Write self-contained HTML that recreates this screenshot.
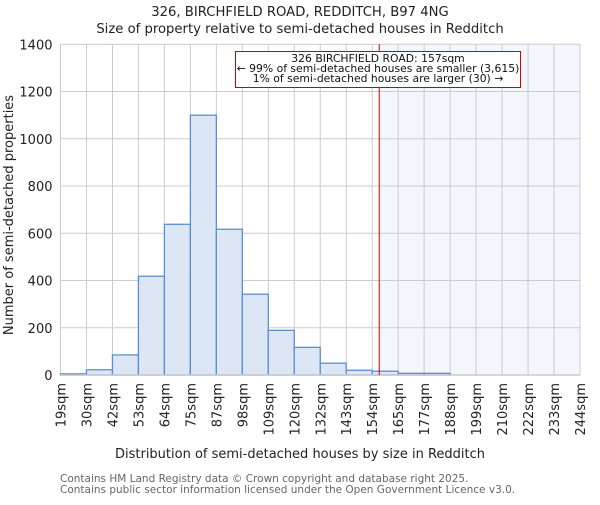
<!DOCTYPE html>
<html><head><meta charset="utf-8"><style>
body{margin:0;background:#fff;}
svg text{font-family:"DejaVu Sans","Liberation Sans",sans-serif;}
</style></head><body>
<svg width="600" height="500" xmlns="http://www.w3.org/2000/svg">
<g id="grid"></g>
<g id="bars"></g>
<g id="axes"></g>
<text x="300" y="16" text-anchor="middle" font-size="13.2" fill="#222">326, BIRCHFIELD ROAD, REDDITCH, B97 4NG</text>
<text x="300" y="33" text-anchor="middle" font-size="13.2" fill="#222">Size of property relative to semi-detached houses in Redditch</text>
<text x="300" y="458" text-anchor="middle" font-size="13" fill="#222">Distribution of semi-detached houses by size in Redditch</text>
<text transform="translate(13,215) rotate(-90)" text-anchor="middle" font-size="13" fill="#222">Number of semi-detached properties</text>
<text x="60" y="482" font-size="10.5" fill="#666">Contains HM Land Registry data © Crown copyright and database right 2025.</text>
<text x="60" y="493" font-size="10.5" fill="#666">Contains public sector information licensed under the Open Government Licence v3.0.</text>
</svg>
<script>
const categories=["19sqm","30sqm","42sqm","53sqm","64sqm","75sqm","87sqm","98sqm","109sqm","120sqm","132sqm","143sqm","154sqm","165sqm","177sqm","188sqm","199sqm","210sqm","222sqm","233sqm","244sqm"];
const counts=[5,22,85,418,638,1100,617,342,189,117,50,20,16,7,7,0,0,0,0,0];
const yTicks=[0,200,400,600,800,1000,1200,1400];
const markerBin=12.27;
const NS="http://www.w3.org/2000/svg";
const L=60.5,R=580,T=44.3,B=375;
const bw=(R-L)/counts.length;
const xs=i=>L+i*bw;
const ys=v=>B-(v/1400)*(B-T);
function mk(tag,attrs,parent){const e=document.createElementNS(NS,tag);for(const k in attrs)e.setAttribute(k,attrs[k]);parent.appendChild(e);return e;}
const grid=document.getElementById('grid'),bars=document.getElementById('bars'),axes=document.getElementById('axes');
const mx=xs(markerBin);
const sh=mk('rect',{x:mx,y:T,width:R-mx,height:B-T,fill:'#f3f6fd'},grid);


yTicks.forEach(v=>{
 const l=mk('line',{x1:L,x2:R,y1:ys(v),y2:ys(v),stroke:'#ccc','stroke-width':1},grid);
 
 
 const t=mk('text',{x:L-8,y:ys(v)+5,'text-anchor':'end','font-size':13,fill:'#222'},axes);
 t.textContent=v;
 
 
});
categories.forEach((c,i)=>{
 const x=xs(i);
 const l=mk('line',{x1:x,x2:x,y1:T,y2:B,stroke:'#ccc','stroke-width':1},grid);
 
 
 const t=mk('text',{transform:`translate(${x+5},${B+8}) rotate(-90)`,'text-anchor':'end','font-size':13,fill:'#222'},axes);
 t.textContent=c;
 
 
});
counts.forEach((v,i)=>{
 if(v<=0)return;
 const r=mk('rect',{x:xs(i),y:ys(v),width:bw,height:B-ys(v),fill:'#dce6f4',stroke:'#5b8fd4','stroke-width':1.3},bars);
 
 
});
const ax=mk('line',{x1:L,x2:R,y1:B,y2:B,stroke:'#ccc','stroke-width':1.5},axes);


const ml=mk('line',{x1:mx,x2:mx,y1:T,y2:B,stroke:'#c00','stroke-width':1},axes);


const box=mk('rect',{x:235.5,y:51.5,width:285,height:36,fill:'#fff',stroke:'#c00','stroke-width':1},axes);


["326 BIRCHFIELD ROAD: 157sqm","← 99% of semi-detached houses are smaller (3,615)","1% of semi-detached houses are larger (30) →"].forEach((s,i)=>{
 const t=mk('text',{x:378,y:62+i*10,'text-anchor':'middle','font-size':10.8,fill:'#111'},axes);
 t.textContent=s;
 
 
});
</script>
</body></html>
